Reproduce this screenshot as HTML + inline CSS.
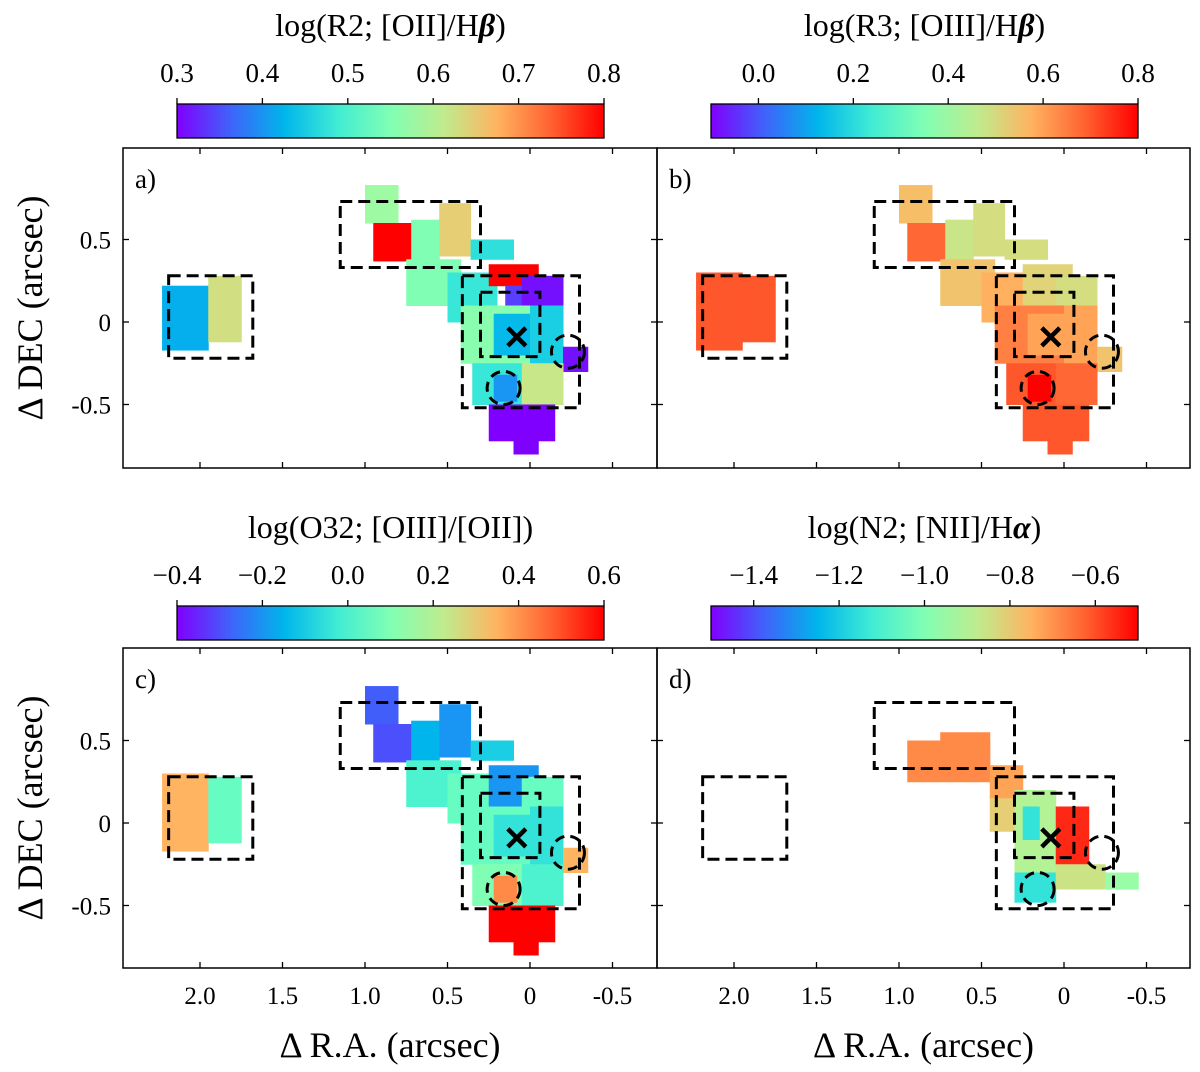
<!DOCTYPE html>
<html><head><meta charset="utf-8">
<style>
html,body{margin:0;padding:0;background:#fff;}
svg{display:block;font-family:"Liberation Serif",serif;}
</style></head>
<body>
<svg id="fig" width="1200" height="1072" viewBox="0 0 1200 1072" xmlns="http://www.w3.org/2000/svg">
<defs>
<linearGradient id="rb" x1="0" x2="1" y1="0" y2="0">
<stop offset="0" stop-color="#8000ff"/><stop offset="0.125" stop-color="#4062fa"/><stop offset="0.25" stop-color="#00b5eb"/><stop offset="0.375" stop-color="#40ecd4"/><stop offset="0.5" stop-color="#80ffb4"/><stop offset="0.625" stop-color="#c0eb8d"/><stop offset="0.75" stop-color="#ffb360"/><stop offset="0.875" stop-color="#ff6230"/><stop offset="1" stop-color="#ff0000"/>
</linearGradient>
</defs>
</svg>
<script>
// ---- data ----
const raTicks=[2.0,1.5,1.0,0.5,0,-0.5];
const raTickLabels=["2.0","1.5","1.0","0.5","0","-0.5"];
const decTicks=[0.5,0,-0.5];
const decTickLabels=["0.5","0","-0.5"];
const cbTitlePre=["log(R2; [OII]/H","log(R3; [OIII]/H","log(O32; [OIII]/[OII])","log(N2; [NII]/H"];
const cbTitleGreek=["β","β","","α"];
const cbTitlePost=[")",")","",")"];
const cbRanges=[[0.3,0.8],[-0.1,0.8],[-0.4,0.6],[-1.5,-0.5]];
const cbTicksA=[0.3,0.4,0.5,0.6,0.7,0.8];
const cbTicksB=[0.0,0.2,0.4,0.6,0.8];
const cbTicksC=[-0.4,-0.2,0.0,0.2,0.4,0.6];
const cbTicksD=[-1.4,-1.2,-1.0,-0.8,-0.6];
const panelLabels=["a)","b)","c)","d)"];
// blocks: [raLeft, raRight, decTop, decBottom, value]
const blocksA=[[2.23,1.95,0.22,-0.17,0.42],[1.95,1.75,0.28,-0.12,0.63],[1.0,0.8,0.83,0.6,0.58],[0.95,0.72,0.6,0.37,0.8],[0.72,0.55,0.62,0.38,0.55],[0.55,0.36,0.72,0.4,0.65],[0.36,0.1,0.5,0.38,0.47],[0.75,0.42,0.38,0.1,0.55],[0.5,0.2,0.3,0.0,0.48],[0.25,-0.05,0.35,0.22,0.8],[0.15,-0.05,0.22,0.05,0.34],[0.05,-0.2,0.28,0.1,0.31],[0.42,0.0,0.1,-0.25,0.56],[0.22,0.0,0.05,-0.2,0.43],[0.0,-0.2,0.1,-0.3,0.45],[-0.2,-0.35,-0.15,-0.3,0.31],[0.35,0.05,-0.25,-0.5,0.48],[0.22,0.08,-0.32,-0.48,0.4],[0.05,-0.2,-0.25,-0.5,0.62],[0.25,-0.15,-0.5,-0.72,0.3],[0.1,-0.05,-0.72,-0.8,0.3]];
const blocksB=[[2.23,1.95,0.3,-0.17,0.7],[1.95,1.75,0.28,-0.12,0.7],[1.0,0.8,0.83,0.6,0.56],[0.95,0.72,0.6,0.37,0.68],[0.72,0.55,0.62,0.38,0.48],[0.55,0.36,0.72,0.4,0.5],[0.36,0.1,0.5,0.38,0.5],[0.75,0.42,0.38,0.1,0.55],[0.5,0.2,0.3,0.0,0.58],[0.25,-0.05,0.35,0.1,0.52],[0.05,-0.2,0.28,0.1,0.5],[0.42,0.0,0.1,-0.25,0.65],[0.22,0.0,0.05,-0.2,0.6],[0.0,-0.2,0.1,-0.3,0.6],[-0.2,-0.35,-0.15,-0.3,0.55],[0.35,0.05,-0.25,-0.5,0.7],[0.22,0.08,-0.32,-0.48,0.8],[0.05,-0.2,-0.25,-0.5,0.68],[0.25,-0.15,-0.5,-0.72,0.7],[0.1,-0.05,-0.72,-0.8,0.7]];
const blocksC=[[2.23,1.95,0.3,-0.17,0.35],[1.95,1.75,0.28,-0.12,0.05],[1.0,0.8,0.83,0.6,-0.28],[0.95,0.72,0.6,0.37,-0.3],[0.72,0.55,0.62,0.38,-0.15],[0.55,0.36,0.72,0.4,-0.2],[0.36,0.1,0.5,0.38,-0.1],[0.75,0.42,0.38,0.1,0.0],[0.5,0.2,0.3,0.0,0.05],[0.25,-0.05,0.35,0.1,-0.2],[0.05,-0.2,0.28,0.1,0.05],[0.42,0.0,0.1,-0.25,0.05],[0.22,0.0,0.05,-0.2,-0.05],[0.0,-0.2,0.1,-0.3,-0.05],[-0.2,-0.35,-0.15,-0.3,0.35],[0.35,0.05,-0.25,-0.5,0.1],[0.22,0.08,-0.32,-0.48,0.42],[0.05,-0.2,-0.25,-0.5,0.0],[0.25,-0.15,-0.5,-0.72,0.6],[0.1,-0.05,-0.72,-0.8,0.6]];
const blocksD=[[0.95,0.45,0.5,0.25,-0.68],[0.75,0.45,0.55,0.3,-0.68],[0.45,0.25,0.35,0.15,-0.72],[0.45,0.3,0.15,-0.05,-0.8],[0.3,0.05,0.2,-0.3,-0.9],[0.25,0.15,0.1,-0.1,-1.15],[0.05,-0.15,0.1,-0.25,-0.55],[0.3,0.05,-0.3,-0.48,-1.15],[0.05,-0.25,-0.25,-0.4,-0.85],[-0.25,-0.45,-0.3,-0.4,-0.95]];
const allBlocks=[blocksA,blocksB,blocksC,blocksD];
const boxes=[[2.19,1.68,0.28,-0.22],[1.15,0.30,0.73,0.33],[0.41,-0.30,0.28,-0.52],[0.30,-0.06,0.18,-0.21]];
const circles=[[0.16,-0.40,0.1],[-0.23,-0.18,0.1]];
const cross=[0.08,-0.09];

const NS="http://www.w3.org/2000/svg";
const svg=document.getElementById('fig');
function el(tag,attrs,parent){const e=document.createElementNS(NS,tag);for(const k in attrs)e.setAttribute(k,attrs[k]);(parent||svg).appendChild(e);return e;}
function cl(v){return Math.max(0,Math.min(1,v));}
function rainbow(t){t=cl(t);const r=cl(Math.abs(2*t-0.5)),g=Math.sin(Math.PI*t),b=Math.abs(Math.cos(Math.PI*t/2));return `rgb(${Math.round(r*255)},${Math.round(g*255)},${Math.round(b*255)})`;}
const S=165;
const panels=[{x0:123,x1:657,y0:148,y1:468,ox:530,oy:322,cbY:104},{x0:657,x1:1190,y0:148,y1:468,ox:1064,oy:322,cbY:104},{x0:123,x1:657,y0:648,y1:968,ox:530,oy:823,cbY:606},{x0:657,x1:1190,y0:648,y1:968,ox:1064,oy:823,cbY:606}];
const cbTickSets=[cbTicksA,cbTicksB,cbTicksC,cbTicksD];
panels.forEach((p,i)=>{
  const g=el('g',{});
  
  
  const X=ra=>p.ox-ra*S, Y=d=>p.oy-d*S;
  const [vmin,vmax]=cbRanges[i];
  allBlocks[i].forEach((b,j)=>{
    const r=el('rect',{x:X(b[0]),y:Y(b[2]),width:(b[0]-b[1])*S+0.5,height:(b[2]-b[3])*S+0.5,fill:rainbow((b[4]-vmin)/(vmax-vmin))},g);
    
    
  });
  boxes.forEach(b=>{
    const r=el('rect',{x:X(b[0]),y:Y(b[2]),width:(b[0]-b[1])*S,height:(b[2]-b[3])*S,fill:'none',stroke:'#000','stroke-width':3,'stroke-dasharray':'12,6'},g);
    
    
  });
  circles.forEach(c=>{
    const e=el('circle',{cx:X(c[0]),cy:Y(c[1]),r:c[2]*S,fill:'none',stroke:'#000','stroke-width':3,'stroke-dasharray':'10,6'},g);
    
    
  });
  const cx=X(cross[0]),cy=Y(cross[1]);
  const cr=el('path',{d:`M${cx-9},${cy-9}L${cx+9},${cy+9}M${cx+9},${cy-9}L${cx-9},${cy+9}`,stroke:'#000','stroke-width':4.5},g);
  
  
  const fr=el('rect',{x:p.x0,y:p.y0,width:p.x1-p.x0,height:p.y1-p.y0,fill:'none',stroke:'#000','stroke-width':1.5},g);
  
  
  const pl=el('text',{x:p.x0+12,y:p.y0+40,'font-size':27},g);pl.textContent=panelLabels[i];
  
  
  raTicks.forEach((t,k)=>{
    el('line',{x1:X(t),x2:X(t),y1:p.y1,y2:p.y1-6,stroke:'#000','stroke-width':1.3},g);
    el('line',{x1:X(t),x2:X(t),y1:p.y0,y2:p.y0+6,stroke:'#000','stroke-width':1.3},g);
    if(i>=2){const tx=el('text',{x:X(t),y:p.y1+36,'font-size':25,'text-anchor':'middle'},g);tx.textContent=raTickLabels[k];
      
      }
  });
  decTicks.forEach((t,k)=>{
    el('line',{x1:p.x0,x2:p.x0+6,y1:Y(t),y2:Y(t),stroke:'#000','stroke-width':1.3},g);
    el('line',{x1:p.x1,x2:p.x1-6,y1:Y(t),y2:Y(t),stroke:'#000','stroke-width':1.3},g);
    if(i%2==0){const ty=el('text',{x:p.x0-12,y:Y(t)+9,'font-size':25,'text-anchor':'end'},g);ty.textContent=decTickLabels[k];
      
      }
  });
  const cbx0=p.ox-353, cbw=427;
  const cb=el('rect',{x:cbx0,y:p.cbY,width:cbw,height:34,fill:'url(#rb)',stroke:'#000','stroke-width':1.3},g);
  
  
  cbTickSets[i].forEach(t=>{
    const x=cbx0+(t-vmin)/(vmax-vmin)*cbw;
    el('line',{x1:x,x2:x,y1:p.cbY,y2:p.cbY-6,stroke:'#000','stroke-width':1.3},g);
    const tt=el('text',{x:x,y:p.cbY-22,'font-size':27,'text-anchor':'middle'},g);
    tt.textContent=(t<0?'\u2212':'')+Math.abs(t).toFixed(1);
    
    
  });
  const ct=el('text',{x:cbx0+cbw/2,y:p.cbY-68,'font-size':32,'text-anchor':'middle'},g);
  const t1=el('tspan',{},ct);t1.textContent=cbTitlePre[i];
  if(cbTitleGreek[i]){const t2=el('tspan',{'font-style':'italic','font-weight':'bold'},ct);t2.textContent=cbTitleGreek[i];
    const t3=el('tspan',{},ct);t3.textContent=cbTitlePost[i];}
  
  
  if(i>=2){const xl=el('text',{x:(p.x0+p.x1)/2,y:1057,'font-size':36,'text-anchor':'middle'},g);xl.textContent='Δ R.A. (arcsec)';
    
    }
  if(i%2==0){const yl=el('text',{x:0,y:0,'font-size':36,'text-anchor':'middle',transform:`translate(42,${(p.y0+p.y1)/2}) rotate(-90)`},g);yl.textContent='Δ DEC (arcsec)';
    
    }
});
</script>
</body></html>
